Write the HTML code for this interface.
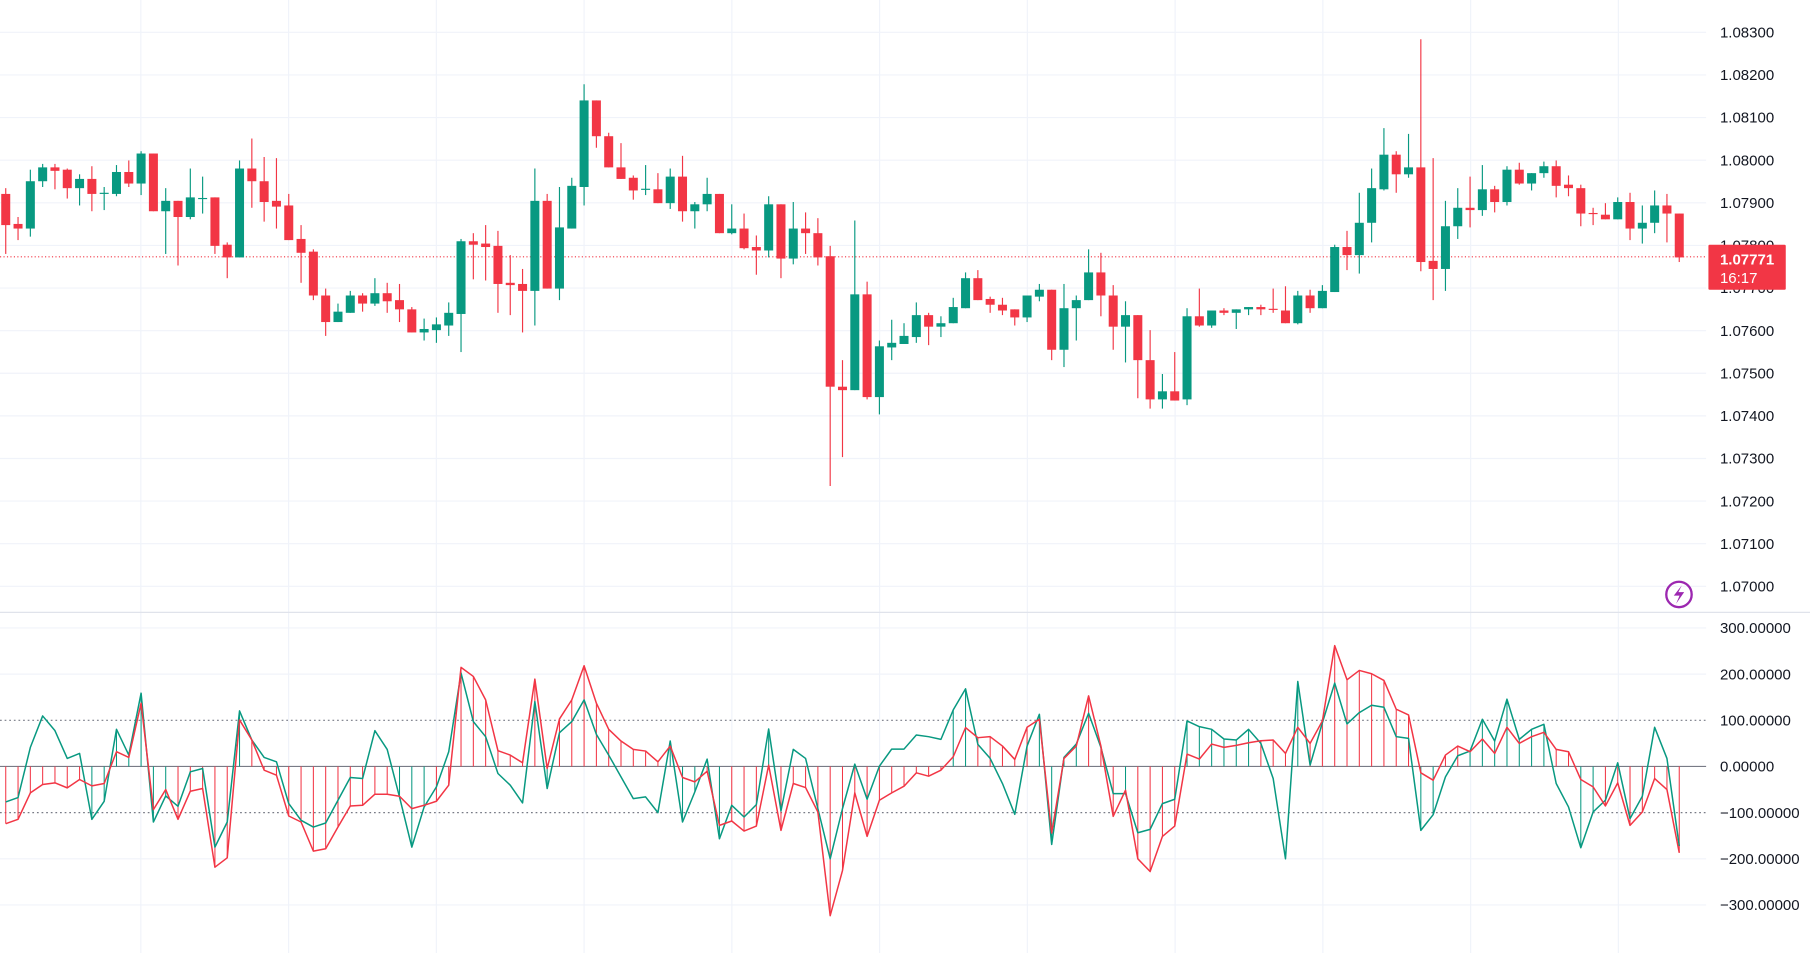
<!DOCTYPE html>
<html><head><meta charset="utf-8"><style>
html,body{margin:0;padding:0;background:#fff;width:1810px;height:953px;overflow:hidden}
svg{display:block}
text{font-family:"Liberation Sans",sans-serif;font-size:13px;fill:#131722}
</style></head><body>
<svg id="c" width="1810" height="953" viewBox="0 0 1568 825.6" preserveAspectRatio="none" xmlns="http://www.w3.org/2000/svg"></svg>
<script>
const svg=document.getElementById('c');const NS='http://www.w3.org/2000/svg';
function el(t,a,txt){const e=document.createElementNS(NS,t);for(const k in a)e.setAttribute(k,a[k]);if(txt!==undefined)e.textContent=txt;svg.appendChild(e);return e;}
const W=1478;
// vertical grid
for(let x=122;x<W;x+=128){el('line',{x1:x,y1:0,x2:x,y2:825.6,stroke:'#f0f3fa','stroke-width':1});}
// price grid
const plabels=['1.08300','1.08200','1.08100','1.08000','1.07900','1.07800','1.07700','1.07600','1.07500','1.07400','1.07300','1.07200','1.07100','1.07000'];
plabels.forEach((l,k)=>{const y=28+k*36.92;el('line',{x1:0,y1:y,x2:W,y2:y,stroke:'#f0f3fa','stroke-width':1});el('text',{x:1490,y:y+4.5},l);});
// separator
el('line',{x1:0,y1:530.5,x2:1568,y2:530.5,stroke:'#e0e3eb','stroke-width':1});
// osc grid
const ol=['300.00000','200.00000','100.00000','0.00000','\u2212100.00000','\u2212200.00000','\u2212300.00000'];
ol.forEach((l,k)=>{const y=544+k*40;
 if(k==2||k==4)el('line',{x1:0,y1:y,x2:W,y2:y,stroke:'#787b86','stroke-width':1,'stroke-dasharray':'1.5,2.5'});
 else if(k==3)el('line',{x1:0,y1:y,x2:W,y2:y,stroke:'#787b86','stroke-width':1});
 else el('line',{x1:0,y1:y,x2:W,y2:y,stroke:'#f0f3fa','stroke-width':1});
 el('text',{x:1490,y:y+4.5},l);});
// candles: [bodyTop, bodyBot, wickTop, wickBot, up?]
const C=[
[168,195,163,220,0],[194,198,188,208,0],[157,198,147,205,1],[145,157,142,162,1],[145,148,142,164,0],[147,163,146,172,0],[155,163,151,178,1],[155,168,144,183,0],[167,168,162,182,1],[149,168,143,170,1],
[149,159,139,162,0],[133,159,131,169,1],[133,183,133,183,0],[174,183,163,220,1],[174,188,174,230,0],[171,188,146,190,1],[171.5,172.5,153,185,1],[171,213,171,220,0],[212,223,210,241,0],[146,223,139,223,1],
[146,157,120,180,0],[157,175,136,192,0],[174,179,137,198,0],[178,208,168,208,0],[207,219,195,245,0],[218,256,216,260,0],[256,279,250,291,0],[270,279,263,279,1],[256,271,252,271,1],[256,263,254,270,0],
[254,263,241,265,1],[254,261,245,271,0],[260,268,246,279,0],[268,288,266,288,0],[285,288,276,295,1],[281,286,275,297,1],[271,282,262,291,1],[209,272,207,305,1],[209,212,202,242,0],[211,214,195,243,0],
[213,246,200,271,0],[245,247,221,273,0],[246,252,233,288,0],[174,252,146,282,1],[174,250,168,250,0],[197,250,162,260,1],[161,198,154,198,1],[87,162,73,178,1],[87,118,87,128,0],[118,145,115,145,0],
[145,155,124,155,0],[154,165,152,173,0],[163.5,164.5,143,169,1],[164,176,150,176,0],[153,176,146,181,1],[153,183,135,192,0],[177,183,175,198,1],[168,177,154,183,1],[168,202,168,202,0],[198,202,177,203,1],
[198,215,185,216,0],[214,217,204,238,0],[177,217,170,223,1],[177,224,177,241,0],[198,224,175,229,1],[198,202,184,220,0],[202,223,189,230,0],[222,335,213,421,0],[335,338,312,396,0],[255,338,191,338,1],
[255,344,244,346,0],[300,344,295,359,1],[297,301,277,312,1],[291,298,280,298,1],[273,292,262,297,1],[273,283,271,299,0],[280,283,274,292,1],[266,280,258,280,1],[241,267,236,267,1],[241,260,234,260,0],
[259,264,257,271,0],[264,269,258,273,0],[268,275,268,282,0],[256,275,256,279,1],[251,257,246,261,1],[251,303,251,312,0],[267,303,246,318,1],[260,267,256,295,1],[236,260,216,260,1],[236,256,219,274,0],
[256,283,247,303,0],[273,283,261,314,1],[273,312,273,345,0],[312,346,286,354,0],[339,346,324,354,1],[339,347,305,347,0],[274,346,267,351,1],[274,282,250,283,0],[269,282,269,284,1],[269,271,267,273,0],
[268,271,268,285,1],[266,268,266,273,1],[266,268,264,273,0],[267.5,268.5,250,271,0],[269,280,248,280,0],[256,280,252,281,1],[256,267,251,271,0],[252,267,247,267,1],[214,253,212,253,1],[214,221,200,234,0],
[193,221,167,237,1],[163,193,146,210,1],[134,164,111,165,1],[134,151,131,167,0],[145,151,116,154,1],[145,227,34,235,0],[226,233,137,260,0],[196,233,174,252,1],[180,196,163,207,1],[180,182,153,197,0],
[164,182,143,187,1],[164,175,161,184,0],[147,175,144,178,1],[147,159,141,160,0],[150,159,150,165,1],[144,150,140,154,1],[144,161,139,171,0],[160,163,152,170,0],[163,185,160,196,0],[184.5,185.5,180,195,0],
[186,190,176,190,0],[175,190,171,190,1],[175,198,167,208,0],[193,198,178,211,1],[178,193,165,202,1],[178,185,168,210,0],[185,223,185,227,0]];
const X=i=>4.97+10.66*i;
// price line
el('line',{x1:0,y1:222.5,x2:W,y2:222.5,stroke:'#f23645','stroke-width':1,'stroke-dasharray':'1,2'});
C.forEach((c,i)=>{const x=X(i);const col=c[4]?'#089981':'#f23645';
 el('line',{x1:x,y1:c[2],x2:x,y2:c[3],stroke:col,'stroke-width':1});
 el('rect',{x:x-3.9,y:c[0],width:7.8,height:Math.max(1,c[1]-c[0]),fill:col});});
// oscillator (zoom coords -> y)
const T=[485,472,322,228,272,355,340,537,483,268,345,160,545,467,498,395,385,620,545,213,300,352,365,490,540,560,548,480,412,415,272,328,470,620,500,440,335,100,245,290,400,435,488,185,445,278,245,180,283,345,410,475,470,517,303,545,455,357,595,495,530,493,267,512,328,355,505,655,505,372,477,378,327,327,285,290,298,210,147,313,355,430,522,318,223,612,352,312,220,322,460,460,577,567,490,477,243,260,268,297,300,268,310,415,655,125,375,248,130,252,218,196,202,290,295,570,523,410,347,333,238,303,178,298,268,253,430,500,622,515,480,368,535,468,262,355,617];
const R=[550,537,458,433,428,443,418,437,430,335,352,190,508,448,537,453,445,680,652,240,300,390,405,527,545,632,625,560,497,495,462,462,468,505,495,483,435,83,110,180,332,345,368,118,385,237,180,78,190,268,303,328,333,365,318,412,425,393,555,542,572,557,375,570,430,442,515,825,690,458,588,480,458,438,398,408,390,350,263,293,290,318,358,262,238,578,355,318,168,318,528,450,655,693,588,557,342,357,312,322,316,308,302,300,340,262,310,243,18,120,92,102,122,208,225,398,420,345,318,335,297,340,262,310,290,277,328,335,418,440,497,428,555,515,415,448,637];
const OY=z=>664-(379-z)*0.2899;
// histogram
R.forEach((r,i)=>{const x=X(i);const rv=OY(r)-664,tv=OY(T[i])-664;
 let v=rv,col='#f23645';
 if(Math.sign(rv)===Math.sign(tv)&&Math.abs(tv)>Math.abs(rv)){v=tv;col='#089981';}
 el('line',{x1:x,y1:664,x2:x,y2:664+v,stroke:col,'stroke-width':0.9});});
function poly(arr,col){el('polyline',{points:arr.map((z,i)=>X(i).toFixed(2)+','+OY(z).toFixed(2)).join(' '),fill:'none',stroke:col,'stroke-width':1.3,'stroke-linejoin':'round'});}
poly(T,'#089981');poly(R,'#f23645');
// price tag
el('rect',{x:1480,y:212,width:67,height:39,fill:'#f23645',rx:1});
const t1=el('text',{x:1490,y:229,style:'fill:#fff;font-weight:bold'},'1.07771');
const t2=el('text',{x:1490,y:245,style:'fill:#fff'},'16:17');
// lightning icon
el('circle',{cx:1454.5,cy:515,r:11,fill:'none',stroke:'#9c27b0','stroke-width':2});
el('path',{d:'M1457 507 L1450 516 L1455 516 L1452 523 L1459 513 L1454 513 Z',fill:'#9c27b0'});
</script>
</body></html>
